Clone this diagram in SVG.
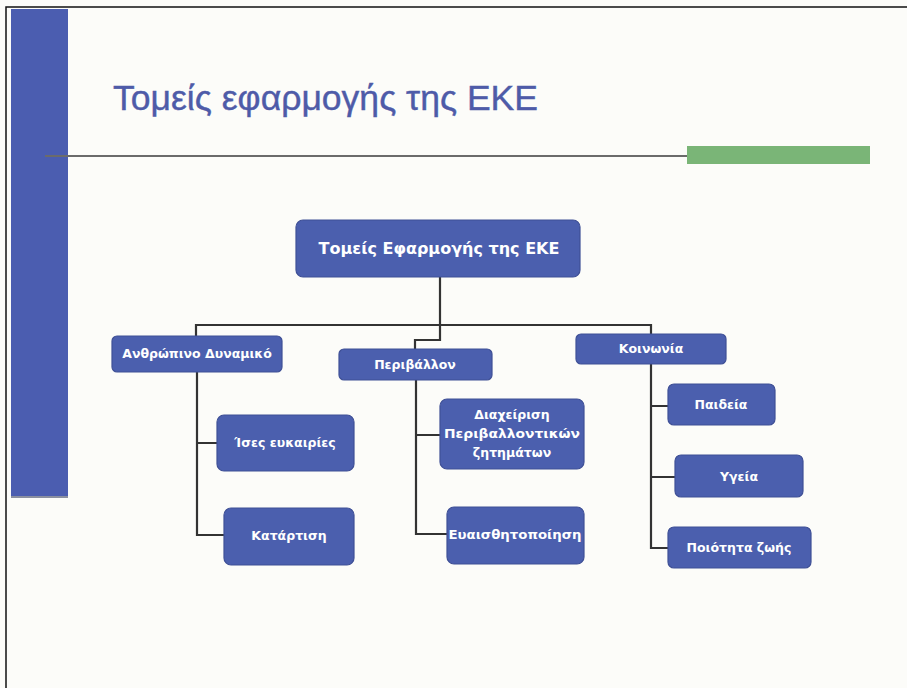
<svg xmlns="http://www.w3.org/2000/svg" width="907" height="688" viewBox="0 0 907 688">
<style>
.box{fill:#4b5fae;stroke:#3f5096;stroke-width:1.2}
.lbl{font-family:"DejaVu Sans","Liberation Sans",sans-serif;font-weight:bold;font-size:12.5px;fill:#ffffff;text-anchor:middle}
.conn{fill:none;stroke:#333333;stroke-width:2.2}
</style>
<rect x="0" y="0" width="907" height="688" fill="#fcfcf9"/>
<path d="M6 688 V7 H907" fill="none" stroke="#111" stroke-width="1.5"/>
<rect x="11" y="9" width="57" height="488" fill="#4b5db0"/>
<line x1="11" y1="497" x2="68" y2="497" stroke="#8a8fa0" stroke-width="2"/>
<text x="113" y="110" font-family="'Liberation Sans',sans-serif" font-size="35" fill="#4e5ba8" stroke="#4e5ba8" stroke-width="0.4" textLength="425" lengthAdjust="spacingAndGlyphs">Τομείς εφαρμογής της ΕΚΕ</text>
<line x1="45" y1="156" x2="688" y2="156" stroke="#6b6b6b" stroke-width="2"/>
<rect x="687" y="146" width="183" height="18" fill="#7ab577"/>

<g id="connectors">
<path class="conn" d="M440 277 V340 H415 V350"/>
<path class="conn" d="M196 336 V325 H651 V334"/>
<path class="conn" d="M197 372 V535 H224 M197 443 H217"/>
<path class="conn" d="M416 380 V534 H447 M416 435 H440"/>
<path class="conn" d="M651 364 V548 H668 M651 406 H668 M651 477 H675"/>
</g>

<g id="root"><rect class="box" x="296" y="220" width="284" height="57" rx="7"/><text class="lbl" x="439" y="254" style="font-size:16px">Τομείς Εφαρμογής της ΕΚΕ</text></g>
<g id="anthropino"><rect class="box" x="112" y="336" width="170" height="36" rx="5"/><text class="lbl" x="197" y="358">Ανθρώπινο Δυναμικό</text></g>
<g id="perivallon"><rect class="box" x="339" y="349" width="153" height="31" rx="5"/><text class="lbl" x="415" y="369">Περιβάλλον</text></g>
<g id="koinonia"><rect class="box" x="576" y="334" width="150" height="30" rx="5"/><text class="lbl" x="651" y="353">Κοινωνία</text></g>
<g id="ises"><rect class="box" x="217" y="415" width="137" height="56" rx="7"/><text class="lbl" x="285" y="447">Ίσες ευκαιρίες</text></g>
<g id="katartisi"><rect class="box" x="224" y="508" width="130" height="57" rx="7"/><text class="lbl" x="289" y="540">Κατάρτιση</text></g>
<g id="diaxeirisi"><rect class="box" x="440" y="399" width="144" height="70" rx="7"/><text class="lbl" x="512" y="419">Διαχείριση</text><text class="lbl" x="512" y="438" textLength="136" lengthAdjust="spacingAndGlyphs">Περιβαλλοντικών</text><text class="lbl" x="512" y="457">ζητημάτων</text></g>
<g id="euaisthitopoiisi"><rect class="box" x="447" y="507" width="137" height="57" rx="7"/><text class="lbl" x="515" y="539" textLength="133" lengthAdjust="spacingAndGlyphs">Ευαισθητοποίηση</text></g>
<g id="paideia"><rect class="box" x="668" y="384" width="107" height="41" rx="6"/><text class="lbl" x="721" y="409">Παιδεία</text></g>
<g id="ygeia"><rect class="box" x="675" y="455" width="128" height="42" rx="6"/><text class="lbl" x="739" y="481">Υγεία</text></g>
<g id="poiotita"><rect class="box" x="668" y="527" width="143" height="41" rx="6"/><text class="lbl" x="739" y="552">Ποιότητα ζωής</text></g>
</svg>
